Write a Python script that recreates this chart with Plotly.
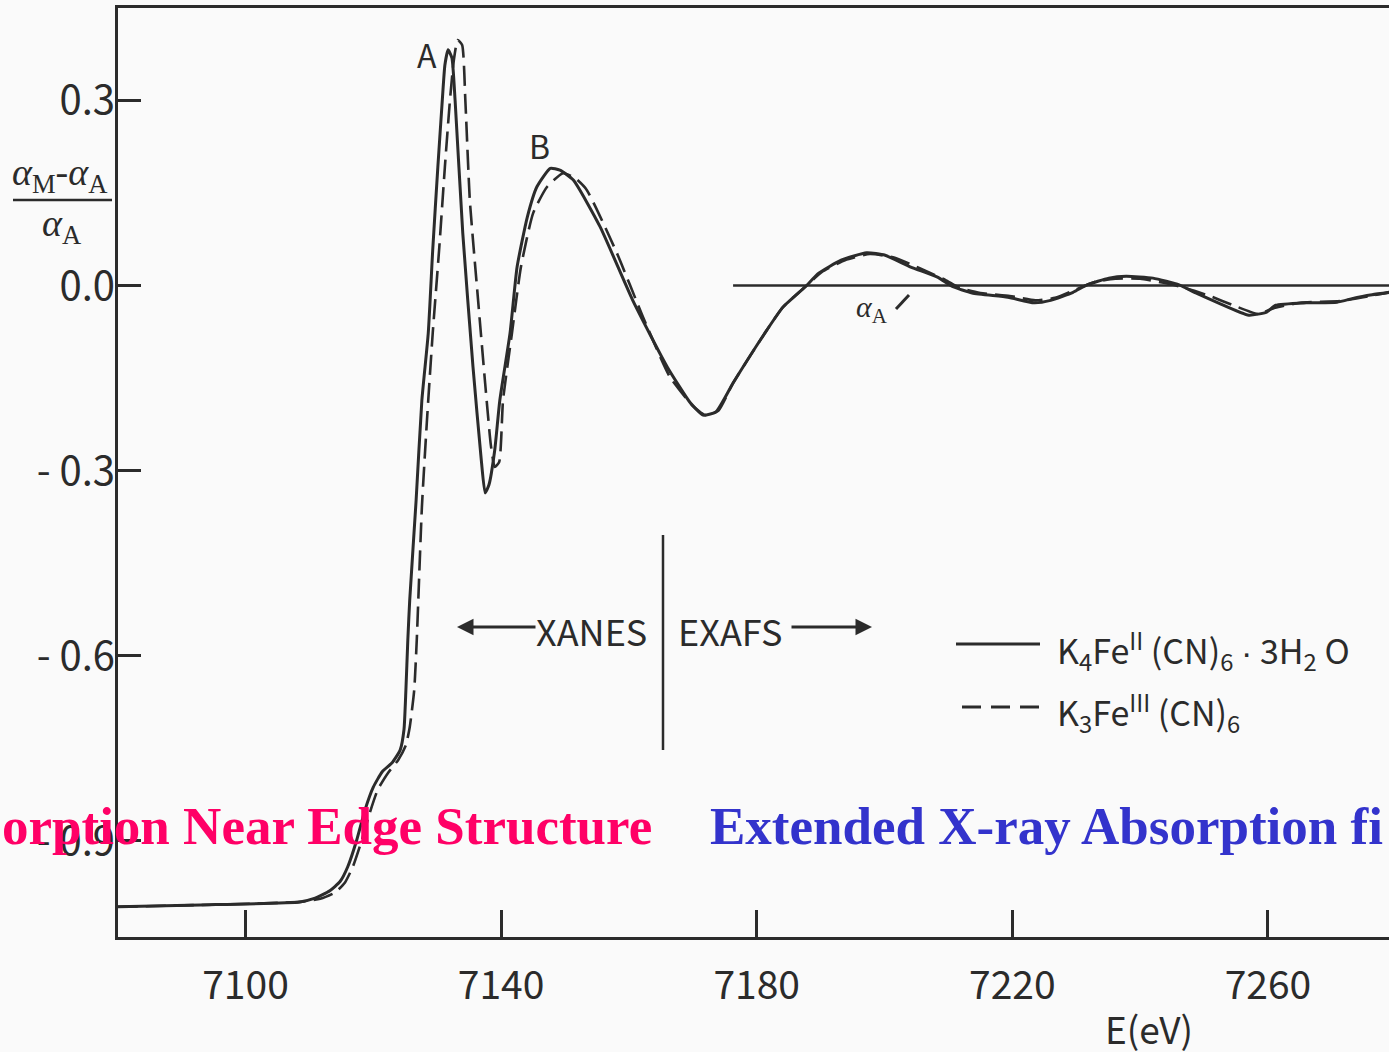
import plotly.graph_objects as go

# ---------------- data ----------------
# K4Fe(II)(CN)6 . 3H2O  (solid)
e_k4 = [7080.0, 7092.9, 7108.5, 7110.9, 7113.2, 7114.8, 7116.0, 7117.4, 7118.7, 7120.0,
        7121.4, 7122.9, 7124.2, 7124.8, 7125.1, 7125.4, 7125.7, 7126.7, 7127.6, 7128.6,
        7129.3, 7130.1, 7130.8, 7131.2, 7131.7, 7132.3, 7132.8, 7134.0, 7135.6, 7136.9,
        7137.5, 7138.1, 7139.0, 7139.8, 7141.4, 7142.5, 7144.1, 7145.6, 7147.7, 7149.2,
        7151.3, 7155.5, 7160.6, 7166.0, 7169.6, 7171.6, 7173.6, 7176.3, 7181.6, 7184.1,
        7187.6, 7189.7, 7193.2, 7197.2, 7200.1, 7204.1, 7208.2, 7210.7, 7213.7, 7219.3,
        7223.4, 7226.0, 7229.5, 7231.7, 7235.1, 7237.8, 7242.0, 7246.1, 7248.7, 7252.2,
        7257.0, 7259.8, 7261.2, 7266.0, 7270.8, 7273.6, 7276.3, 7279.0]
r_k4 = [-1.007, -1.004, -0.999, -0.993, -0.981, -0.966, -0.942, -0.899, -0.850, -0.813,
        -0.788, -0.774, -0.753, -0.720, -0.656, -0.575, -0.510, -0.348, -0.186, -0.077,
        0.058, 0.192, 0.301, 0.357, 0.382, 0.369, 0.300, 0.085, -0.132, -0.283,
        -0.336, -0.323, -0.267, -0.186, -0.077, 0.030, 0.111, 0.160, 0.190, 0.187,
        0.171, 0.095, -0.024, -0.132, -0.190, -0.210, -0.205, -0.158, -0.072, -0.035,
        -0.002, 0.020, 0.041, 0.053, 0.049, 0.030, 0.014, -0.002, -0.012, -0.019,
        -0.028, -0.024, -0.011, 0.001, 0.012, 0.015, 0.012, 0.001, -0.012, -0.028,
        -0.048, -0.043, -0.032, -0.028, -0.027, -0.020, -0.015, -0.011]

# K3Fe(III)(CN)6  (dashed)
e_k3 = [7080.0, 7108.5, 7111.7, 7114.0, 7115.6, 7116.8, 7118.2, 7119.5, 7120.7, 7122.3,
        7123.9, 7125.1, 7125.7, 7126.4, 7126.8, 7127.6, 7128.4, 7129.3, 7130.3, 7131.2,
        7132.0, 7132.6, 7133.2, 7133.9, 7134.4, 7135.1, 7136.4, 7137.5, 7138.4, 7139.0,
        7139.7, 7140.3, 7141.7, 7143.1, 7145.0, 7147.2, 7149.7, 7151.6, 7153.4, 7158.1,
        7162.2, 7166.4, 7169.9, 7171.9, 7174.0, 7176.3, 7181.6, 7184.1, 7187.6, 7190.2,
        7193.8, 7197.7, 7201.6, 7205.5, 7209.5, 7211.8, 7215.0, 7219.6, 7223.6, 7226.7,
        7229.8, 7233.0, 7236.1, 7240.0, 7243.9, 7247.0, 7250.9, 7254.8, 7258.4, 7261.1,
        7265.0, 7271.3, 7276.0, 7279.0]
r_k3 = [-1.007, -0.999, -0.994, -0.984, -0.967, -0.942, -0.899, -0.853, -0.817, -0.790,
        -0.769, -0.745, -0.716, -0.656, -0.575, -0.360, -0.218, -0.077, 0.058, 0.192,
        0.301, 0.365, 0.398, 0.390, 0.301, 0.139, -0.024, -0.158, -0.259, -0.294,
        -0.286, -0.186, -0.077, 0.030, 0.117, 0.160, 0.182, 0.174, 0.155, 0.053,
        -0.051, -0.148, -0.194, -0.210, -0.203, -0.158, -0.072, -0.035, -0.002, 0.022,
        0.041, 0.051, 0.045, 0.028, 0.009, -0.004, -0.012, -0.017, -0.024, -0.020,
        -0.007, 0.006, 0.011, 0.011, 0.004, -0.004, -0.017, -0.033, -0.046, -0.036,
        -0.028, -0.025, -0.017, -0.011]

# alpha_A reference line
e_ref = [7176.3, 7279.0]
r_ref = [0.0, 0.0]

x_ticks = [7100, 7140, 7180, 7220, 7260]
x_ticktext = ["7100", "7140", "7180", "7220", "7260"]
y_ticks = [0.3, 0.0, -0.3, -0.6, -0.9]
y_ticktext = ["0.3", "0.0", "- 0.3", "- 0.6", "- 0.9"]

DOT = '<span style="font-family:Liberation Sans">·</span>'
legend_names = ["K<sub>4</sub>Fe<sup>II</sup> (CN)<sub>6</sub> " + DOT + " 3H<sub>2</sub> O",
                "K<sub>3</sub>Fe<sup>III</sup> (CN)<sub>6</sub>"]

# ---------------- layout helpers ----------------
W, H = 1389, 1052
L, R, T, B = 118, 0, 8, 115
PW, PH = W - L - R, H - T - B


def px(xpix):
    return (xpix - L) / PW


def py(ypix):
    return (H - B - ypix) / PH


INK = "#2b2b2b"
NARROW = "Noto Sans CJK SC, Liberation Sans Narrow, Liberation Sans, sans-serif"
SERIF = "Liberation Serif, Times New Roman, serif"

fig = go.Figure()
fig.add_trace(go.Scatter(x=e_k4, y=r_k4, mode="lines", name="K4Fe(II)(CN)6·3H2O",
                         line=dict(color=INK, width=3, shape="spline", smoothing=0.5),
                         showlegend=False))
fig.add_trace(go.Scatter(x=e_k3, y=r_k3, mode="lines", name="K3Fe(III)(CN)6",
                         line=dict(color=INK, width=2.6, dash="20px,8px",
                                   shape="spline", smoothing=0.5),
                         showlegend=False))
fig.add_trace(go.Scatter(x=e_ref, y=r_ref, mode="lines", name="αA",
                         line=dict(color=INK, width=2.5), showlegend=False))

ann = []


def text(xp, yp, s, size, font=NARROW, color=INK, xa="center", ya="middle", weight="normal"):
    ann.append(dict(x=px(xp), y=py(yp), xref="paper", yref="paper", text=s,
                    showarrow=False, xanchor=xa, yanchor=ya,
                    font=dict(family=font, size=size, color=color, weight=weight)))


# peak labels
text(427, 54, "A", 32)
text(539, 145, "B", 32)
# alpha_A label
text(872, 309, "<i>α</i><sub>A</sub>", 30, font=SERIF)
# y-axis fraction label
text(60, 175, "<i>α</i><sub>M</sub>-<i>α</i><sub>A</sub>", 38, font=SERIF)
text(62, 226, "<i>α</i><sub>A</sub>", 38, font=SERIF)
# XANES / EXAFS
text(649, 630, "XANES", 36, xa="right")
text(676, 630, "EXAFS", 36, xa="left")
# legend texts
text(1055, 650, legend_names[0], 34, xa="left")
text(1055, 712, legend_names[1], 34, xa="left")
# x-axis title
text(1149, 1028, "E(eV)", 37)
# overlay captions
text(0, 826, "orption Near Edge Structure", 53, font=SERIF, color="#FF0066",
     xa="left", weight="bold")
text(708, 826, "Extended X-ray Absorption fi", 53, font=SERIF, color="#3333CC",
     xa="left", weight="bold")

# arrows
ann.append(dict(x=px(457), y=py(627), xref="paper", yref="paper", text="",
                showarrow=True, ax=80, ay=0, arrowhead=2, arrowsize=1.1,
                arrowwidth=3, arrowcolor=INK))
ann.append(dict(x=px(872), y=py(627), xref="paper", yref="paper", text="",
                showarrow=True, ax=-82, ay=0, arrowhead=2, arrowsize=1.1,
                arrowwidth=3, arrowcolor=INK))

shapes = [
    # XANES/EXAFS divider
    dict(type="line", xref="paper", yref="paper", x0=px(663), x1=px(663),
         y0=py(535), y1=py(750), line=dict(color=INK, width=2.5)),
    # fraction bar
    dict(type="line", xref="paper", yref="paper", x0=px(13), x1=px(112),
         y0=py(200), y1=py(200), line=dict(color=INK, width=2.5)),
    # alpha_A pointer
    dict(type="line", xref="paper", yref="paper", x0=px(896), x1=px(909),
         y0=py(309), y1=py(295), line=dict(color=INK, width=3)),
    # legend samples
    dict(type="line", xref="paper", yref="paper", x0=px(956), x1=px(1040),
         y0=py(644), y1=py(644), line=dict(color=INK, width=3)),
    dict(type="line", xref="paper", yref="paper", x0=px(962), x1=px(1040),
         y0=py(707), y1=py(707), line=dict(color=INK, width=3, dash="19px,10px")),
]

fig.update_layout(
    width=W, height=H,
    margin=dict(l=L, r=R, t=T, b=B, pad=0),
    paper_bgcolor="#fafafa", plot_bgcolor="#fafafa",
    showlegend=False,
    annotations=ann, shapes=shapes,
    xaxis=dict(range=[7080.05, 7278.94], tickvals=x_ticks, ticktext=x_ticktext,
               ticks="inside", ticklen=27, tickwidth=2.5, tickcolor=INK,
               showline=True, linecolor=INK, linewidth=3, mirror=True,
               showgrid=False, zeroline=False, ticklabelstandoff=12,
               tickfont=dict(family=NARROW, size=39, color=INK)),
    yaxis=dict(range=[-1.0559, 0.4498], tickvals=y_ticks, ticktext=y_ticktext,
               ticks="inside", ticklen=23, tickwidth=2.5, tickcolor=INK,
               showline=True, linecolor=INK, linewidth=3,
               showgrid=False, zeroline=False, ticklabelstandoff=-8,
               tickfont=dict(family=NARROW, size=40, color=INK)),
)

fig.write_html("out.html")
